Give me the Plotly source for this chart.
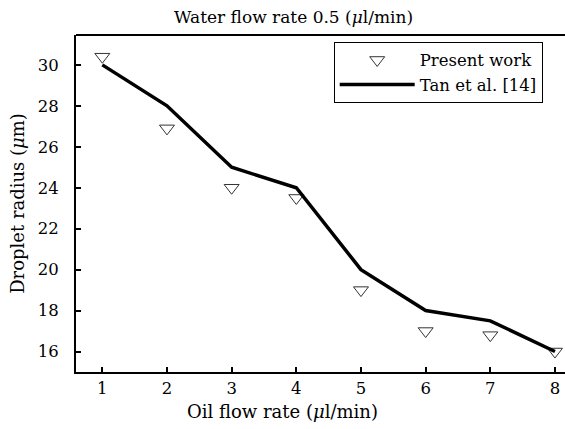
import plotly.graph_objects as go

oil_flow = [1, 2, 3, 4, 5, 6, 7, 8]
present_work = [30.4, 26.9, 24.0, 23.5, 19.0, 17.0, 16.8, 16.0]
tan_et_al = [30.0, 28.0, 25.0, 24.0, 20.0, 18.0, 17.5, 16.0]
y_ticks = [16, 18, 20, 22, 24, 26, 28, 30]

FONT = "DejaVu Serif, serif"
f = lambda s: dict(family=FONT, size=s, color="black")

fig = go.Figure()
fig.add_trace(go.Scatter(
    x=oil_flow, y=present_work, mode="markers", name="Present work",
    marker=dict(symbol="triangle-down-open", size=13, color="#333333", line=dict(width=1)),
))
fig.add_trace(go.Scatter(
    x=oil_flow, y=tan_et_al, mode="lines", name="Tan et al. [14]",
    line=dict(color="black", width=3.5),
))

fig.update_layout(
    width=565, height=429,
    margin=dict(l=76, r=0, t=35, b=57),
    paper_bgcolor="white", plot_bgcolor="white",
    font=f(16),
    showlegend=True,
    legend=dict(x=0.527, y=0.98, xanchor="left", yanchor="top",
                bordercolor="black", borderwidth=1, bgcolor="white",
                itemwidth=75, tracegroupgap=0, font=f(16.5)),
    xaxis=dict(range=[0.593, 8.155], tickvals=oil_flow, ticks="inside", ticklen=5,
               tickwidth=2, tickcolor="black", showline=True, linewidth=2, linecolor="black",
               showgrid=False, zeroline=False, ticklabelstandoff=0, tickfont=f(16.5)),
    yaxis=dict(range=[15.0, 31.46], tickvals=y_ticks, ticks="inside", ticklen=5,
               tickwidth=2, tickcolor="black", showline=True, linewidth=2, linecolor="black",
               showgrid=False, zeroline=False, ticklabelstandoff=12, tickfont=f(16.5),
               title=dict(text="Droplet radius (<i>μ</i>m)", standoff=8, font=f(18))),
    annotations=[
        dict(text="Water flow rate 0.5 (<i>μ</i>l/min)", xref="paper", yref="paper",
             x=0.445, y=1.0, yshift=6, xanchor="center", yanchor="bottom",
             showarrow=False, font=f(17)),
        dict(text="Oil flow rate (<i>μ</i>l/min)", xref="paper", yref="paper",
             x=0.422, y=0, yshift=-27, xanchor="center", yanchor="top",
             showarrow=False, font=f(18)),
    ],
)
fig.add_shape(type="line", xref="paper", yref="paper", x0=0, x1=1, y0=1, y1=1,
              line=dict(color="black", width=2))

fig.write_html("out.html")
